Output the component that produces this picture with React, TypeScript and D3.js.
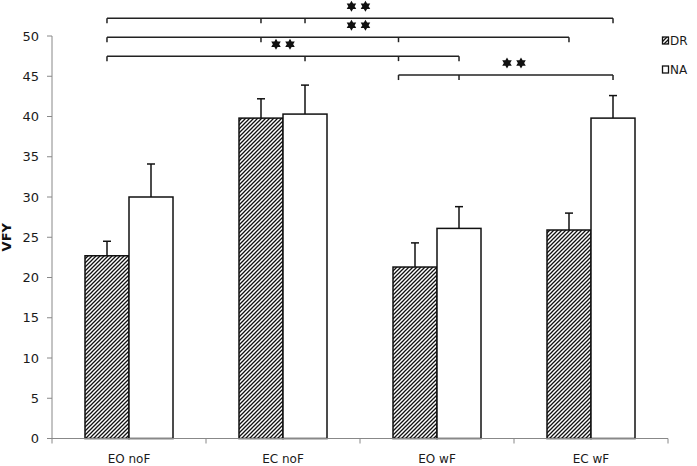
import React from "react";
import * as d3 from "d3";

const categories = ["EO noF", "EC noF", "EO wF", "EC wF"];
const seriesNames = ["DR", "NA"];
const drValues = [22.7, 39.8, 21.3, 25.9];
const drErrors = [1.8, 2.4, 3.0, 2.1];
const naValues = [30.0, 40.3, 26.1, 39.8];
const naErrors = [4.1, 3.6, 2.7, 2.8];
const yTicks = [0, 5, 10, 15, 20, 25, 30, 35, 40, 45, 50];
// significance brackets, positions in category units, level in data units
const bracketStarts = [0.357, 0.357, 0.357, 2.25];
const bracketEnds = [3.643, 3.357, 2.643, 3.643];
const bracketTicks = [[1.357, 1.643], [1.357, 2.25], [1.643, 2.25], [2.643]];
const bracketLevels = [52.2, 49.85, 47.5, 45.15];
const bracketStarX = [1.99, 1.99, 1.5, 3.0];
const bracketLabels = ["**", "**", "**", "**"];

const W = 697, H = 466;
const left = 52, right = 668, top = 36, bottom = 438.5;

function hexagram(cx: number, cy: number, r: number) {
  const tri = (rot: number) => {
    const pts = [0, 1, 2].map((k) => {
      const a = rot + (k * 2 * Math.PI) / 3;
      return [cx + r * Math.sin(a), cy - r * Math.cos(a)];
    });
    return "M" + pts.map((p) => p.join(",")).join("L") + "Z";
  };
  return tri(0) + tri(Math.PI);
}

export default function App() {
  const x0 = d3.scaleBand<string>().domain(categories).range([left, right]).paddingInner(0).paddingOuter(0);
  const cw = x0.bandwidth();
  const x1 = d3.scaleBand<string>().domain(seriesNames).range([0, cw]).paddingInner(0).paddingOuter(0.75);
  const xu = d3.scaleLinear().domain([0, 4]).range([left, right]);
  const y = d3.scaleLinear().domain([0, 50]).range([bottom, top]);
  const font = "DejaVu Sans, Verdana, sans-serif";
  const bw = x1.bandwidth();

  const series = [
    { name: "DR", values: drValues, errors: drErrors, fill: "url(#hatch)" },
    { name: "NA", values: naValues, errors: naErrors, fill: "#fff" },
  ];

  return (
    <svg width={W} height={H} style={{ position: "absolute", left: 0, top: 0, background: "#fff" }}>
      <defs>
        <pattern id="hatch" patternUnits="userSpaceOnUse" width={4} height={4}>
          <rect width={4} height={4} fill="#fff" />
          <path d="M-1,1 l2,-2 M0,4 l4,-4 M3,5 l2,-2" stroke="#111" strokeWidth={1.3} />
        </pattern>
      </defs>
      {/* y axis */}
      <line x1={left} x2={left} y1={y(50)} y2={y(0)} stroke="#888" strokeWidth={1} />
      {yTicks.map((t) => (
        <g key={t}>
          <line x1={left - 5} x2={left} y1={y(t)} y2={y(t)} stroke="#888" />
          <text x={left - 13} y={y(t)} dy="0.35em" textAnchor="end" fontFamily={font} fontSize={13} fill="#1a1a1a">{t}</text>
        </g>
      ))}
      <text transform={`translate(11,${y(25)}) rotate(-90)`} textAnchor="middle" fontFamily={font} fontSize={13} fontWeight="bold" fill="#111">VFY</text>
      {/* bars */}
      {series.map((s) =>
        categories.map((c, i) => {
          const bx = (x0(c) as number) + (x1(s.name) as number);
          const cx = bx + bw / 2;
          return (
            <g key={s.name + c}>
              <line x1={cx} x2={cx} y1={y(s.values[i])} y2={y(s.values[i] + s.errors[i])} stroke="#111" strokeWidth={1.5} />
              <line x1={cx - 4} x2={cx + 4} y1={y(s.values[i] + s.errors[i])} y2={y(s.values[i] + s.errors[i])} stroke="#111" strokeWidth={1.5} />
              <rect x={bx} y={y(s.values[i])} width={bw} height={y(0) - y(s.values[i])} fill={s.fill} stroke="#111" strokeWidth={1.5} />
            </g>
          );
        })
      )}
      {/* x axis */}
      <line x1={left} x2={right} y1={y(0)} y2={y(0)} stroke="#888" strokeWidth={1} />
      {[0, 1, 2, 3, 4].map((k) => (
        <line key={k} x1={xu(k)} x2={xu(k)} y1={y(0)} y2={y(0) + 5} stroke="#888" />
      ))}
      {categories.map((c) => (
        <text key={c} x={(x0(c) as number) + cw / 2} y={463} textAnchor="middle" fontFamily={font} fontSize={12} fill="#1a1a1a">{c}</text>
      ))}
      {/* significance brackets */}
      {bracketLevels.map((lv, i) => {
        const yy = y(lv);
        const ends = [bracketStarts[i], bracketEnds[i], ...bracketTicks[i]];
        const sx = xu(bracketStarX[i]);
        return (
          <g key={i}>
            <line x1={xu(bracketStarts[i])} x2={xu(bracketEnds[i])} y1={yy} y2={yy} stroke="#222" strokeWidth={1.5} />
            {ends.map((e, k) => (
              <line key={k} x1={xu(e)} x2={xu(e)} y1={yy} y2={yy + 5} stroke="#222" strokeWidth={1.5} />
            ))}
            <path d={hexagram(sx - 7, yy - 12, 5.5) + hexagram(sx + 7, yy - 12, 5.5)} fill="#111" />
            <text x={sx} y={yy - 12} opacity={0} fontSize={10} textAnchor="middle">{bracketLabels[i]}</text>
          </g>
        );
      })}
      {/* legend */}
      {seriesNames.map((n, i) => (
        <g key={n}>
          <rect x={662.5} y={37 + i * 29} width={6} height={7} fill={i === 0 ? "url(#hatch)" : "#fff"} stroke="#111" strokeWidth={1.3} />
          <text x={670} y={40.5 + i * 29} dy="0.35em" fontFamily={font} fontSize={12} fill="#1a1a1a">{n}</text>
        </g>
      ))}
    </svg>
  );
}
